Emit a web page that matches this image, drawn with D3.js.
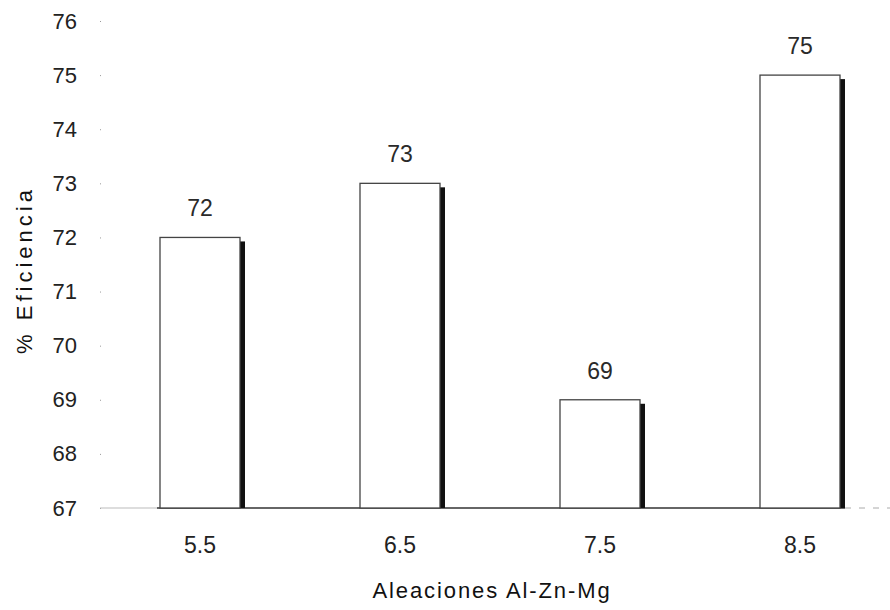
<!DOCTYPE html>
<html>
<head>
<meta charset="utf-8">
<script src="https://cdn.jsdelivr.net/npm/d3@7"></script>
<style>
  body { margin: 0; background: #fff; }
  text { font-family: "Liberation Sans", Arial, sans-serif; fill: #222; }
</style>
</head>
<body>
<svg id="chart" width="890" height="610"></svg>
<script>
// Alloy compositions and measured efficiency
const alloys = ["5.5", "6.5", "7.5", "8.5"];
const efficiency = [72, 73, 69, 75];
const yTicks = [67, 68, 69, 70, 71, 72, 73, 74, 75, 76];

const svg = d3.select("#chart");

const x = d3.scaleBand()
  .domain(alloys)
  .range([100, 900])
  .paddingInner(0.6)
  .paddingOuter(0.3);

const y = d3.scaleLinear()
  .domain([67, 76])
  .range([508, 21]);

// Y axis: labels plus small faint tick marks, no spine
const yAxis = svg.append("g")
  .attr("transform", "translate(100,0)")
  .call(d3.axisLeft(y).tickValues(yTicks).tickSize(2).tickPadding(21).tickFormat(d3.format("d")));
yAxis.select(".domain").remove();
yAxis.selectAll(".tick line").attr("stroke", "#999").attr("x2", 1);
yAxis.selectAll("text")
  .style("font-size", "22px")
  .style("font-family", "Liberation Sans, Arial, sans-serif")
  .attr("fill", "#2a2a2a");

// Baseline
svg.append("line")
  .attr("x1", 100).attr("x2", 157)
  .attr("y1", y(67)).attr("y2", y(67))
  .attr("stroke", "#bbb").attr("stroke-width", 1.2);
svg.append("line")
  .attr("x1", 157).attr("x2", x("8.5") + x.bandwidth() + 5)
  .attr("y1", y(67)).attr("y2", y(67))
  .attr("stroke", "#333").attr("stroke-width", 1.3);
svg.append("line")
  .attr("x1", x("8.5") + x.bandwidth() + 5).attr("x2", 890)
  .attr("y1", y(67)).attr("y2", y(67))
  .attr("stroke", "#aaa").attr("stroke-width", 1)
  .attr("stroke-dasharray", "6,8");

const bars = svg.append("g").selectAll("g")
  .data(alloys.map((a, i) => ({ a, v: efficiency[i] })))
  .join("g");

// Drop shadow on the right side
bars.append("rect")
  .attr("x", d => x(d.a) + x.bandwidth())
  .attr("y", d => y(d.v) + 4)
  .attr("width", 5)
  .attr("height", d => y(67) - y(d.v) - 4)
  .attr("fill", "#111");

// Bar body
bars.append("rect")
  .attr("x", d => x(d.a))
  .attr("y", d => y(d.v))
  .attr("width", x.bandwidth())
  .attr("height", d => y(67) - y(d.v))
  .attr("fill", "#fff")
  .attr("stroke", "#444")
  .attr("stroke-width", 1.3);

// Value labels
bars.append("text")
  .attr("x", d => x(d.a) + x.bandwidth() / 2)
  .attr("y", d => y(d.v) - 21)
  .attr("text-anchor", "middle")
  .style("font-size", "23px")
  .style("fill", "#2a2a2a")
  .text(d => d.v);

// X axis labels
const xAxis = svg.append("g")
  .attr("transform", `translate(0,${y(67)})`)
  .call(d3.axisBottom(x).tickSize(0).tickPadding(29));
xAxis.select(".domain").remove();
xAxis.selectAll("text")
  .style("font-size", "23px")
  .style("font-family", "Liberation Sans, Arial, sans-serif")
  .attr("fill", "#2a2a2a");

// Axis titles
svg.append("text")
  .attr("x", 492).attr("y", 598)
  .attr("text-anchor", "middle")
  .style("font-size", "22px")
  .style("letter-spacing", "1.9px")
  .style("fill", "#111")
  .text("Aleaciones Al-Zn-Mg");

svg.append("text")
  .attr("transform", "translate(32,270) rotate(-90)")
  .attr("text-anchor", "middle")
  .style("font-size", "22px")
  .style("letter-spacing", "4px")
  .style("fill", "#111")
  .text("% Eficiencia");
</script>
</body>
</html>
